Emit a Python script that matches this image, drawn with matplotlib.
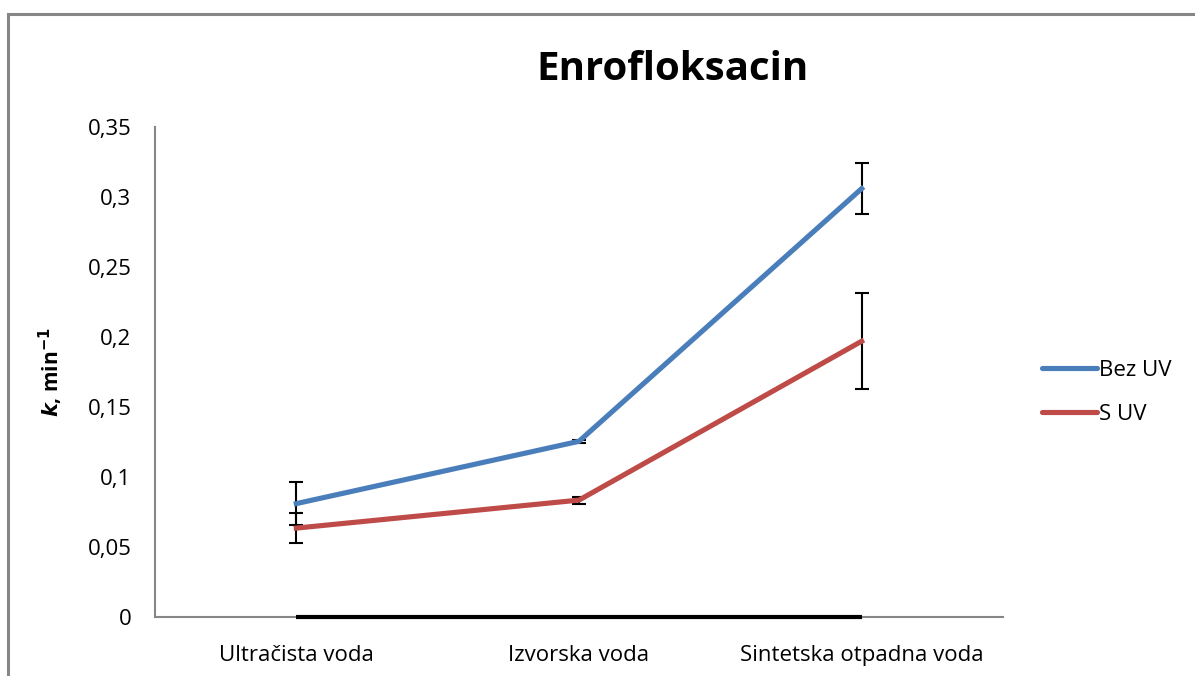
import matplotlib.pyplot as plt
from matplotlib.patches import Rectangle
from matplotlib.lines import Line2D

# data
categories = ['Ultračista voda', 'Izvorska voda', 'Sintetska otpadna voda']
bez_uv = [0.081, 0.1255, 0.306]
bez_uv_err = [0.0155, 0.001, 0.018]
s_uv = [0.0635, 0.0835, 0.197]
s_uv_err = [0.0105, 0.0025, 0.0345]
nula = [0, 0, 0]

plt.rcParams['font.family'] = ['Open Sans', 'DejaVu Sans']

fig = plt.figure(figsize=(11.95, 6.76), dpi=100)
ax = fig.add_axes([155/1195, 1-617/676, 848/1195, 490/676])

# outer chart border
fig.patches.append(Rectangle((8/1195, -0.05), 1.2, 1-14/676+0.05, transform=fig.transFigure,
                             fill=False, edgecolor='#868686', linewidth=2.2))

x = range(len(categories))
ax.plot(x, nula, color='black', linewidth=3, solid_capstyle='butt', zorder=3, clip_on=False)
ax.errorbar(x, bez_uv, yerr=bez_uv_err, color='#4a7ebb', linewidth=3.7, ecolor='black',
            elinewidth=1.5, capsize=4.8, capthick=1.5, zorder=4)
ax.errorbar(x, s_uv, yerr=s_uv_err, color='#be4b48', linewidth=3.7, ecolor='black',
            elinewidth=1.5, capsize=4.8, capthick=1.5, zorder=4)

ax.set_xlim(-0.5, 2.5)
ax.set_ylim(0, 0.35)
ax.set_yticks([0, 0.05, 0.1, 0.15, 0.2, 0.25, 0.3, 0.35])
ax.set_yticklabels(['0', '0,05', '0,1', '0,15', '0,2', '0,25', '0,3', '0,35'], fontsize=16)
ax.set_xticks(list(x))
ax.set_xticklabels(categories, fontsize=16)
ax.tick_params(axis='y', length=0, pad=17)
ax.tick_params(axis='x', length=0, pad=20)
for s in ['top', 'right']:
    ax.spines[s].set_visible(False)
for s in ['left', 'bottom']:
    ax.spines[s].set_color('#868686')
    ax.spines[s].set_linewidth(1.5)

ax.set_ylabel(r'$\mathbfit{k}$, min$^{\mathbf{-1}}$', fontsize=15, fontweight='bold', labelpad=16)
fig.text(672/1195, 1-70/676, 'Enrofloksacin', fontsize=29, fontweight='bold', ha='center', va='center')

handles = [Line2D([], [], color='#4a7ebb', linewidth=3.7, solid_capstyle='round'),
           Line2D([], [], color='#be4b48', linewidth=3.7, solid_capstyle='round')]
ax.legend(handles, ['Bez UV', 'S UV'], loc='center left', bbox_to_anchor=(1.022, 0.458),
          frameon=False, fontsize=16, handlelength=2.5, handletextpad=0.1, labelspacing=1.05)

fig.savefig('out.png', dpi=100)
